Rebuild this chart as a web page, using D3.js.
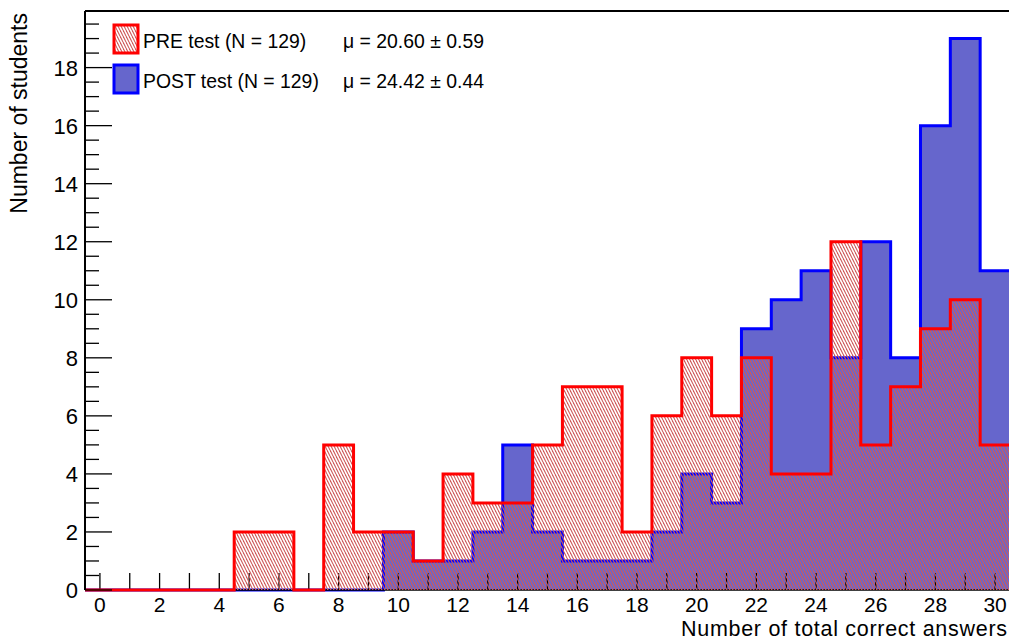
<!DOCTYPE html>
<html>
<head>
<meta charset="utf-8">
<script src="https://cdn.jsdelivr.net/npm/d3@7"></script>
<style>
  html, body { margin: 0; padding: 0; background: #fff; }
  svg { display: block; font-family: "Liberation Sans", Arial, Helvetica, sans-serif; }
</style>
</head>
<body>
<svg id="chart" width="1009" height="641"></svg>
<script>
// Score bins (number of correct answers, one bin per integer score)
const scores = [0,1,2,3,4,5,6,7,8,9,10,11,12,13,14,15,16,17,18,19,20,21,22,23,24,25,26,27,28,29,30];
// Students per score, pre-instruction test
const preCounts  = [0,0,0,0,0,2,2,0,5,2,2,1,4,3,3,5,7,7,2,6,8,6,8,4,4,12,5,7,9,10,5];
// Students per score, post-instruction test
const postCounts = [0,0,0,0,0,0,0,0,0,0,2,1,1,2,5,2,1,1,1,2,4,3,9,10,11,8,12,8,16,19,11];
// Axis tick values
const xTickLabels = [0,2,4,6,8,10,12,14,16,18,20,22,24,26,28,30];
const yTickLabels = [0,2,4,6,8,10,12,14,16,18];
// Legend entries
const legendNames = ["PRE test (N = 129)", "POST test (N = 129)"];
const legendMeans = ["\u03bc = 20.60 \u00b1 0.59", "\u03bc = 24.42 \u00b1 0.44"];

const svg = d3.select("#chart");
const frame = { left: 85, right: 1010, top: 11, bottom: 590 };

const x = d3.scaleLinear().domain([-0.5, 30.5]).range([frame.left, frame.right]);
const y = d3.scaleLinear().domain([0, 19.95]).range([frame.bottom, frame.top]);

// Fine diagonal hatch for the pre-test histogram
const defs = svg.append("defs");
const pat = defs.append("pattern")
  .attr("id", "hatch")
  .attr("patternUnits", "userSpaceOnUse")
  .attr("width", 3).attr("height", 6);
[-3, 0, 3].forEach(o => {
  pat.append("line")
    .attr("x1", o).attr("y1", 0).attr("x2", o + 3).attr("y2", 6)
    .attr("stroke", "#cf5a5a").attr("stroke-width", 1.1);
});

// Step outline points: each bin contributes its left and right edge at its count
function stepPoints(counts) {
  const pts = [];
  scores.forEach((s, i) => {
    pts.push([s - 0.5, counts[i]]);
    pts.push([s + 0.5, counts[i]]);
  });
  return pts;
}

const area = d3.area().x(d => x(d[0])).y0(y(0)).y1(d => y(d[1]));
const line = d3.line().x(d => x(d[0])).y(d => y(d[1]));

const postPts = stepPoints(postCounts);
const prePts = stepPoints(preCounts);

// Post-test histogram: solid fill and outline
svg.append("path").attr("d", area(postPts)).attr("fill", "#6666cc");
svg.append("path").attr("d", line(postPts))
  .attr("fill", "none").attr("stroke", "#0000ff").attr("stroke-width", 3)
  .attr("stroke-linejoin", "miter");

// X axis line and ticks
const gx = svg.append("g");
gx.append("line")
  .attr("x1", frame.left).attr("x2", frame.right)
  .attr("y1", frame.bottom).attr("y2", frame.bottom)
  .attr("stroke", "#000").attr("stroke-width", 1.5);
gx.selectAll("line.tick").data(scores).join("line")
  .attr("class", "tick")
  .attr("x1", d => x(d)).attr("x2", d => x(d))
  .attr("y1", frame.bottom).attr("y2", frame.bottom - 17)
  .attr("stroke", "#000").attr("stroke-width", 1.3);

// Pre-test histogram: hatched fill and outline
svg.append("path").attr("d", area(prePts)).attr("fill", "url(#hatch)");
svg.append("path").attr("d", line(prePts))
  .attr("fill", "none").attr("stroke", "#ff0000").attr("stroke-width", 3)
  .attr("stroke-linejoin", "miter");

// Frame: top and left lines
svg.append("line")
  .attr("x1", frame.left).attr("x2", frame.right)
  .attr("y1", frame.top).attr("y2", frame.top)
  .attr("stroke", "#000").attr("stroke-width", 2);
svg.append("line")
  .attr("x1", frame.left).attr("x2", frame.left)
  .attr("y1", frame.top).attr("y2", frame.bottom)
  .attr("stroke", "#000").attr("stroke-width", 2);

// Y axis ticks: major every 2, minor every 0.5
const yMinor = d3.range(0, 19.95, 0.5);
svg.append("g").selectAll("line").data(yMinor).join("line")
  .attr("x1", frame.left)
  .attr("x2", d => frame.left + (yTickLabels.includes(d) ? 27 : 14))
  .attr("y1", d => y(d)).attr("y2", d => y(d))
  .attr("stroke", "#000").attr("stroke-width", 1.3);

// Y tick labels
svg.append("g").selectAll("text").data(yTickLabels).join("text")
  .attr("x", 78).attr("y", d => y(d))
  .attr("dy", "0.36em")
  .attr("text-anchor", "end")
  .attr("font-size", 22)
  .text(d => d);

// X tick labels
svg.append("g").selectAll("text").data(xTickLabels).join("text")
  .attr("x", d => x(d)).attr("y", 612)
  .attr("text-anchor", "middle")
  .attr("font-size", 21)
  .text(d => d);

// Axis titles
svg.append("text")
  .attr("x", 1007).attr("y", 636.3)
  .attr("text-anchor", "end")
  .attr("font-size", 21.5)
  .attr("textLength", 326)
  .attr("lengthAdjust", "spacing")
  .text("Number of total correct answers");
svg.append("text")
  .attr("transform", "translate(27,13) rotate(-90)")
  .attr("text-anchor", "end")
  .attr("font-size", 23)
  .text("Number of students");

// Legend
const legend = svg.append("g");
const boxes = [
  { y: 25, fill: "url(#hatch)", stroke: "#ff0000" },
  { y: 65, fill: "#6666cc", stroke: "#0000ff" }
];
boxes.forEach((b, i) => {
  legend.append("rect")
    .attr("x", 114).attr("y", b.y).attr("width", 24).attr("height", 28)
    .attr("fill", b.fill).attr("stroke", b.stroke).attr("stroke-width", 3);
  legend.append("text")
    .attr("x", 143).attr("y", b.y + 23)
    .attr("font-size", 19.4)
    .text(legendNames[i]);
  legend.append("text")
    .attr("x", 343).attr("y", b.y + 23)
    .attr("font-size", 19.4)
    .text(legendMeans[i]);
});
</script>
</body>
</html>
